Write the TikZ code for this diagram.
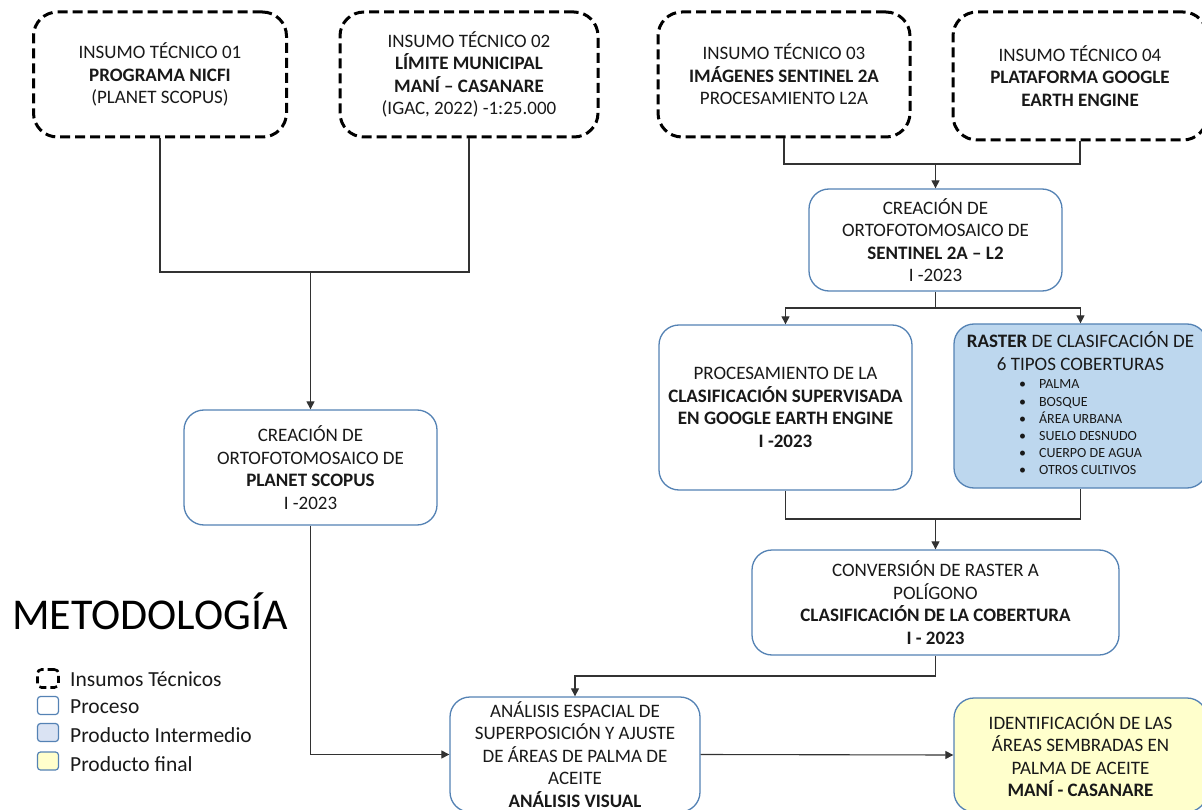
\documentclass[tikz,border=0pt]{standalone}
\usepackage{fontspec}
\setmainfont{Carlito}
\usetikzlibrary{arrows.meta,positioning}
\definecolor{procline}{RGB}{84,130,180}
\definecolor{rasterbg}{RGB}{189,215,238}
\definecolor{legbg}{RGB}{218,227,243}
\definecolor{finalbg}{RGB}{255,255,204}
\definecolor{linegray}{RGB}{50,50,50}
\newcommand{\boxtxt}{\fontsize{19}{22.5}\selectfont}
\newcommand{\listtxt}{\fontsize{14}{17.2}\selectfont}

\begin{document}
\begin{tikzpicture}[x=1pt, y=-1pt,
    insumo/.style={rectangle, rounded corners=24pt, draw=black, line width=3pt,
                   dash pattern=on 10pt off 5pt, fill=white, align=center, font=\boxtxt,
                   minimum width=253pt, minimum height=125pt, inner sep=0pt, text=black!90},
    proceso/.style={rectangle, rounded corners=20pt, draw=procline, line width=1.3pt, fill=white,
                    align=center, font=\boxtxt, inner sep=0pt, text=black!90, minimum width=253pt},
    interm/.style={proceso, fill=rasterbg},
    prodfin/.style={proceso, fill=finalbg},
    conn/.style={draw=linegray, line width=1.1pt},
    arr/.style={conn, -{Triangle[length=8pt, width=8pt]}},
    legsq/.style={rectangle, rounded corners=3pt, draw=procline, line width=1.2pt,
                  minimum width=21pt, minimum height=18pt, inner sep=0pt},
    legtxt/.style={anchor=base west, font=\fontsize{21.5}{24}\selectfont, text=black!90, inner sep=0pt}
]
\useasboundingbox (0,0) rectangle (1202,810);

\node[insumo] (in1) at (160,74.5) {INSUMO TÉCNICO 01\\\textbf{PROGRAMA NICFI}\\(PLANET SCOPUS)};
\node[insumo, minimum width=258pt] (in2) at (469,74.5) {INSUMO TÉCNICO 02\\\textbf{LÍMITE MUNICIPAL}\\\textbf{MANÍ – CASANARE}\\(IGAC, 2022) -1:25.000};
\node[insumo, minimum width=252pt] (in3) at (784,74.5) {INSUMO TÉCNICO 03\\\textbf{IMÁGENES SENTINEL 2A}\\PROCESAMIENTO L2A};
\node[insumo, minimum width=254pt, minimum height=128pt] (in4) at (1080,76) {INSUMO TÉCNICO 04\\\textbf{PLATAFORMA GOOGLE}\\\textbf{EARTH ENGINE}};

\node[proceso, minimum height=102pt] (sent) at (935.5,240) {CREACIÓN DE\\ORTOFOTOMOSAICO DE\\\textbf{SENTINEL 2A – L2}\\I -2023};
\node[proceso, minimum height=165pt] (proc) at (785.5,407.5) {PROCESAMIENTO DE LA\\\textbf{CLASIFICACIÓN SUPERVISADA}\\\textbf{EN GOOGLE EARTH ENGINE}\\\textbf{I -2023}};
\node[interm, minimum height=164pt] (raster) at (1080.5,406) {\textbf{RASTER} DE CLASIFCACIÓN DE\\6 TIPOS COBERTURAS\\[-4pt]{\listtxt\begin{tabular}[t]{@{}l@{\hspace{13pt}}l@{}}
    \textbullet & PALMA\\
    \textbullet & BOSQUE\\
    \textbullet & ÁREA URBANA\\
    \textbullet & SUELO DESNUDO\\
    \textbullet & CUERPO DE AGUA\\
    \textbullet & OTROS CULTIVOS
  \end{tabular}}\hspace{14pt}};
\node[proceso, minimum width=367pt, minimum height=105pt] (conv) at (935.5,602.5) {CONVERSIÓN DE RASTER A\\POLÍGONO\\\textbf{CLASIFICACIÓN DE LA COBERTURA}\\\textbf{I - 2023}};
\node[proceso, minimum height=115pt] (planet) at (310.5,467.5) {CREACIÓN DE\\ORTOFOTOMOSAICO DE\\\textbf{PLANET SCOPUS}\\I -2023};
\node[proceso, minimum width=250pt, minimum height=115pt] (anal) at (575,754.5) {ANÁLISIS ESPACIAL DE\\SUPERPOSICIÓN Y AJUSTE\\DE ÁREAS DE PALMA DE\\ACEITE\\\textbf{ANÁLISIS VISUAL}};
\node[prodfin, minimum height=114pt] (final) at (1080.5,755) {IDENTIFICACIÓN DE LAS\\ÁREAS SEMBRADAS EN\\PALMA DE ACEITE\\\textbf{MANÍ - CASANARE}};

\node[anchor=base, font=\fontsize{44}{50}\selectfont, inner sep=0pt] (title) at (150,629) {METODOLOGÍA};

\node[legsq, draw=black, line width=2.6pt, dash pattern=on 7pt off 4pt, rounded corners=4pt] (leg1) at (48,678.5) {};
\node[legsq] (leg2) at (48,705.5) {};
\node[legsq, fill=legbg] (leg3) at (48,732.5) {};
\node[legsq, fill=finalbg] (leg4) at (48,761) {};
\node[legtxt] (lt1) at (70,686) {Insumos Técnicos};
\node[legtxt] (lt2) at (70,713) {Proceso};
\node[legtxt] (lt3) at (70,742) {Producto Intermedio};
\node[legtxt] (lt4) at (70,771) {Producto final};

\coordinate (j1) at (310.5,272);
\coordinate (j2) at (935.5,164);
\coordinate (s1) at (935.5,308);
\coordinate (j3) at (935.5,519);
\coordinate (j4) at (935.5,676);

\draw[conn] (in1.south) |- (j1) -| (in2.south);
\draw[arr] (j1) -- (planet.north);
\draw[conn] (in3.south) |- (j2) -| (in4.south);
\draw[arr] (j2) -- (sent.north);
\draw[conn] (sent.south) -- (s1);
\draw[arr] (s1) -| (proc.north);
\draw[arr] (s1) -| (raster.north);
\draw[conn] (proc.south) |- (j3) -| (raster.south);
\draw[arr] (j3) -- (conv.north);
\draw[arr] (conv.south) -- (j4) -| (anal.north);
\draw[arr] (planet.south) |- (anal.west);
\draw[arr] (anal.east) -- (final.west);
\end{tikzpicture}
\end{document}
